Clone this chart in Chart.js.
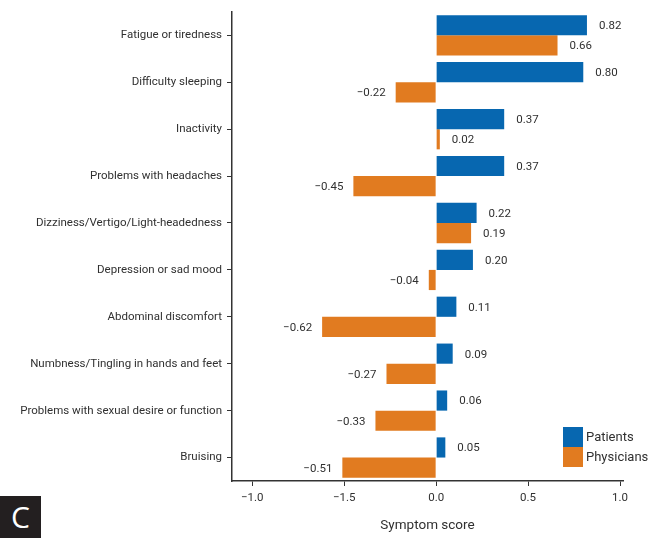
<!DOCTYPE html>
<html>
<head>
<meta charset="utf-8">
<script src="https://cdn.jsdelivr.net/npm/chart.js@4/dist/chart.umd.min.js"></script>
<style>
  html, body { margin: 0; padding: 0; background: #fff; }
  #wrap { position: relative; width: 648px; height: 538px; }
  #panel {
    position: absolute; left: 0; top: 496px; width: 41px; height: 42px;
    background: #231f20; color: #fff; font: 30px "Open Sans", "Liberation Sans", sans-serif;
    line-height: 42px; text-align: center;
  }
</style>
</head>
<body>
<div id="wrap">
  <canvas id="c" width="648" height="538"></canvas>
  <div id="panel">C</div>
</div>
<script>
// Symptoms, top to bottom
const symptoms = [
  'Fatigue or tiredness',
  'Difficulty sleeping',
  'Inactivity',
  'Problems with headaches',
  'Dizziness/Vertigo/Light-headedness',
  'Depression or sad mood',
  'Abdominal discomfort',
  'Numbness/Tingling in hands and feet',
  'Problems with sexual desire or function',
  'Bruising'
];
const patientScores   = [0.82, 0.80, 0.37, 0.37, 0.22, 0.20, 0.11, 0.09, 0.06, 0.05];
const physicianScores = [0.66, -0.22, 0.02, -0.45, 0.19, -0.04, -0.62, -0.27, -0.33, -0.51];
const xTickValues = [-1.0, -0.5, 0.0, 0.5, 1.0];
const xTickLabels = ['\u22121.0', '\u22121.5', '0.0', '0.5', '1.0'];

const BLUE = '#0767b0';
const ORANGE = '#e17b20';
const INK = '#303030';
const FONT = 'Roboto, "Liberation Sans", sans-serif';

const fmt = v => (v < 0 ? '\u2212' : '') + Math.abs(v).toFixed(2);

// Value label next to each bar end
const valueLabels = {
  id: 'valueLabels',
  afterDatasetsDraw(chart) {
    const ctx = chart.ctx;
    ctx.save();
    ctx.font = '11.5px ' + FONT;
    ctx.fillStyle = INK;
    ctx.textBaseline = 'middle';
    chart.data.datasets.forEach((ds, di) => {
      chart.getDatasetMeta(di).data.forEach((bar, i) => {
        const v = ds.data[i];
        if (v >= 0) {
          ctx.textAlign = 'left';
          ctx.fillText(fmt(v), Math.max(bar.x, bar.base) + 12, bar.y + 1);
        } else {
          ctx.textAlign = 'right';
          ctx.fillText(fmt(v), Math.min(bar.x, bar.base) - 10, bar.y + 1);
        }
      });
    });
    ctx.restore();
  }
};

// Stacked swatch legend in the lower right
const boxLegend = {
  id: 'boxLegend',
  afterDraw(chart) {
    const ctx = chart.ctx;
    ctx.save();
    ctx.font = '13px ' + FONT;
    ctx.textBaseline = 'middle';
    ctx.textAlign = 'left';
    const x0 = 563, y0 = 427, size = 20;
    chart.data.datasets.forEach((ds, i) => {
      const y = y0 + i * size;
      ctx.fillStyle = ds.backgroundColor;
      ctx.fillRect(x0, y, size, size);
      ctx.fillStyle = INK;
      ctx.fillText(ds.label, x0 + size + 3, y + size / 2 + 1);
    });
    ctx.restore();
  }
};

new Chart(document.getElementById('c'), {
  type: 'bar',
  data: {
    labels: symptoms,
    datasets: [
      { label: 'Patients', data: patientScores, backgroundColor: BLUE },
      { label: 'Physicians', data: physicianScores, backgroundColor: ORANGE }
    ]
  },
  options: {
    indexAxis: 'y',
    responsive: false,
    animation: false,
    layout: { padding: { top: 10, right: 25, left: 0, bottom: 0 } },
    datasets: { bar: { categoryPercentage: 0.86, barPercentage: 1.0 } },
    plugins: { legend: { display: false }, tooltip: { enabled: false } },
    scales: {
      x: {
        min: -1.11,
        max: 1.016,
        afterBuildTicks: s => { s.ticks = xTickValues.map(v => ({ value: v })); },
        afterFit: s => { s.height = 57; },
        ticks: {
          color: INK,
          font: { family: FONT, size: 11.5 },
          padding: 5,
          callback: v => xTickLabels[xTickValues.indexOf(v)]
        },
        grid: { drawOnChartArea: false, drawTicks: true, tickLength: 5, color: '#333' },
        border: { color: '#333', width: 1.5 },
        title: {
          display: true,
          text: 'Symptom score',
          color: INK,
          font: { family: FONT, size: 13.5 },
          padding: { top: 7 }
        }
      },
      y: {
        afterFit: s => { s.width = 232; },
        ticks: { color: INK, font: { family: FONT, size: 11.5 }, padding: 5 },
        grid: { offset: false, drawOnChartArea: false, drawTicks: true, tickLength: 5, color: '#333' },
        border: { color: '#333', width: 1.5 }
      }
    }
  },
  plugins: [valueLabels, boxLegend]
});
</script>
</body>
</html>
